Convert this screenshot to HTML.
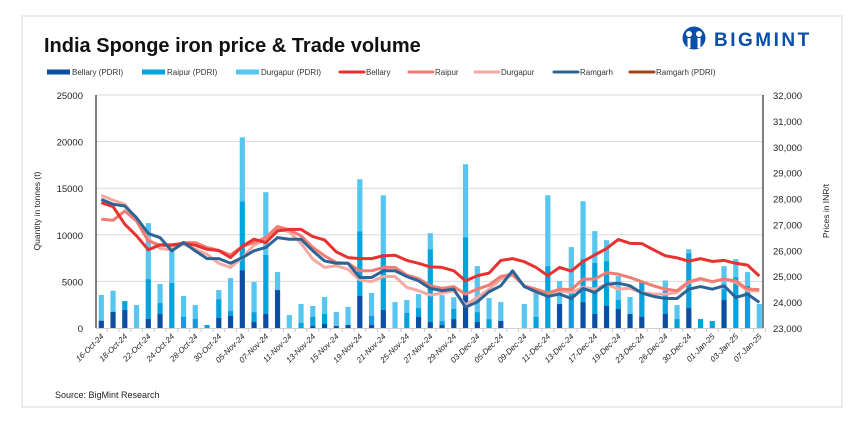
<!DOCTYPE html>
<html><head><meta charset="utf-8"><style>
body{margin:0;background:#fff;font-family:"Liberation Sans",sans-serif;}
svg text{font-family:"Liberation Sans",sans-serif;}
</style></head><body>
<svg id="chart" width="863" height="427" viewBox="0 0 863 427" xmlns="http://www.w3.org/2000/svg">
<rect x="22" y="16" width="820" height="391" fill="#fff" stroke="#d9d9d9" stroke-width="1"/>
<text x="44" y="52" font-size="20" font-weight="bold" fill="#111">India Sponge iron price &amp; Trade volume</text>
<g>
<circle cx="694" cy="38" r="11.5" fill="#0a4fa8"/>
<circle cx="689" cy="34" r="3" fill="#fff"/><circle cx="699" cy="34" r="3" fill="#fff"/>
<rect x="687.5" y="38" width="3" height="10" fill="#fff"/><rect x="697.5" y="38" width="3" height="10" fill="#fff"/>
<text x="714" y="46" font-size="19" font-weight="bold" fill="#0a4fa8" letter-spacing="2.5">BIGMINT</text>
</g>
<g id="legend" font-size="8" fill="#333"></g>
<g id="grid"></g>
<g id="bars"></g>
<g id="lines"></g>
<g id="axes"></g>
<text transform="translate(40,211) rotate(-90)" text-anchor="middle" font-size="8.5" fill="#222">Quantity in tonnes (t)</text>
<text transform="translate(829,211) rotate(-90)" text-anchor="middle" font-size="8.5" fill="#222">Prices in INR/t</text>
<text x="55" y="398" font-size="9" fill="#222">Source: BigMint Research</text>
</svg>
<script>
const dates=["16-Oct-24","17-Oct-24","18-Oct-24","21-Oct-24","22-Oct-24","23-Oct-24","24-Oct-24","25-Oct-24","28-Oct-24","29-Oct-24","30-Oct-24","04-Nov-24","05-Nov-24","06-Nov-24","07-Nov-24","08-Nov-24","11-Nov-24","12-Nov-24","13-Nov-24","14-Nov-24","15-Nov-24","18-Nov-24","19-Nov-24","20-Nov-24","21-Nov-24","22-Nov-24","25-Nov-24","26-Nov-24","27-Nov-24","28-Nov-24","29-Nov-24","02-Dec-24","03-Dec-24","04-Dec-24","05-Dec-24","06-Dec-24","09-Dec-24","10-Dec-24","11-Dec-24","12-Dec-24","13-Dec-24","16-Dec-24","17-Dec-24","18-Dec-24","19-Dec-24","20-Dec-24","23-Dec-24","24-Dec-24","26-Dec-24","27-Dec-24","30-Dec-24","31-Dec-24","01-Jan-25","02-Jan-25","03-Jan-25","06-Jan-25","07-Jan-25"];
const bellaryPdri=[790,1750,1960,0,1000,1500,0,0,0,0,1070,1290,6210,640,1500,4070,0,0,210,430,210,320,3430,320,1960,0,0,1180,640,320,960,3530,640,0,750,0,0,0,0,2570,0,2780,1500,2360,2040,1500,1180,0,1500,0,2140,0,0,3000,0,0,0];
const raipurPdri=[0,0,930,0,4250,1180,4860,1180,1000,320,2030,530,7390,1070,6350,0,0,540,970,1070,0,0,6960,970,6000,0,1610,960,7820,430,1080,6220,1070,960,0,0,0,1180,6640,0,4000,4610,5500,4820,960,0,3750,0,2500,960,5890,960,750,1180,5460,4530,0];
const durgapurPdri=[2750,2250,0,2460,6000,2030,3340,2250,1460,0,970,3540,6860,3220,6720,1930,1390,2030,1180,1820,1500,1930,5570,2460,6280,2780,1390,1500,1710,2780,1260,7820,4930,2250,2030,0,2570,2570,7600,2460,4680,6210,3390,2250,2570,1820,0,0,1100,1500,430,0,0,2460,1930,1470,2570];
const bellaryPrice=[27840,27690,27010,26560,26020,26210,26210,26270,26200,26040,25990,25720,26150,26430,26300,26750,26810,26810,26530,26400,25940,25720,25680,25680,25790,25810,25610,25500,25360,25340,25210,24820,25020,25120,25610,25680,25560,25340,25020,25340,25200,25570,25820,26070,26420,26270,26260,26020,25790,25710,25580,25680,25570,25610,25500,25430,25010];
const raipurPrice=[27200,27160,27520,27130,26360,26200,26170,26300,26300,26110,26000,25820,26150,26300,26490,26920,26790,26560,26110,25790,25530,25500,25210,25210,25340,25340,25040,24910,24630,24530,24600,24310,24500,24660,24990,25080,24630,24500,24350,24500,24480,24890,24890,25140,25080,24950,24790,24630,24500,24440,24790,24910,24790,24890,24820,24500,24480];
const durgapurPrice=[28120,27940,27780,27200,26450,26070,26020,26240,26040,25850,25500,25340,25720,26200,26430,26840,26710,26270,25660,25340,25400,25270,24860,24790,24990,24990,24570,24440,24270,24350,24440,23890,24180,24500,24890,25040,24630,24370,24310,24440,24370,24570,24500,24690,24500,24530,24370,24310,24310,24370,24760,24890,24790,24890,24760,24440,24440];
const ramgarhPrice=[27970,27780,27710,27260,26650,26490,25980,26300,25980,25680,25680,25500,25720,25980,26110,26490,26430,26430,25980,25590,25500,25500,24950,24950,25210,25210,24990,24820,24530,24440,24500,23800,24010,24400,24630,25210,24600,24400,24220,24310,24140,24530,24370,24690,24730,24630,24350,24220,24140,24140,24500,24600,24500,24630,24180,24310,23990];
const leftTicks=[0,5000,10000,15000,20000,25000];
const rightTicks=[23000,24000,25000,26000,27000,28000,29000,30000,31000,32000];

const NS="http://www.w3.org/2000/svg";
const X0=96,X1=763,Y0=328,Y1=95;
const xPos=i=>101.3+i*11.75;
const yL=v=>Y0-(v/25000)*(Y0-Y1);
const yR=v=>Y0-((v-23000)/9000)*(Y0-Y1);
function mk(tag,attrs,parent,txt){const e=document.createElementNS(NS,tag);for(const k in attrs)e.setAttribute(k,attrs[k]);if(txt!==undefined)e.textContent=txt;parent.appendChild(e);return e;}
const grid=document.getElementById('grid'),axes=document.getElementById('axes'),bars=document.getElementById('bars'),lines=document.getElementById('lines'),legend=document.getElementById('legend');
leftTicks.forEach(v=>{
 if(v>0){const g=mk('line',{x1:X0,x2:X1,y1:yL(v),y2:yL(v),stroke:'#d9d9d9','stroke-width':1},grid);
 
 }
 const t=mk('text',{x:83,y:yL(v)+4,'text-anchor':'end','font-size':9.5,fill:'#222'},axes,String(v));
 
 
});
rightTicks.forEach(v=>{
 const t=mk('text',{x:773,y:yR(v)+4,'font-size':9.5,fill:'#222'},axes,v.toLocaleString('en-US'));
 
 
});
mk('line',{x1:X0,x2:X1,y1:Y0+0.5,y2:Y0+0.5,stroke:'#d0d0d0','stroke-width':1},axes);
mk('line',{x1:X0,x2:X0,y1:Y1,y2:Y0,stroke:'#000','stroke-width':1},axes);
mk('line',{x1:X1,x2:X1,y1:Y1,y2:Y0,stroke:'#000','stroke-width':1},axes);
dates.forEach((d,i)=>{
 const x=xPos(i);
 mk('line',{x1:x+5.9,x2:x+5.9,y1:Y0,y2:Y0+4,stroke:'#c8c8c8','stroke-width':1},axes);
 if(i%2===0){
  const t=mk('text',{transform:`translate(${x+3},${Y0+9}) rotate(-45)`,'text-anchor':'end','font-size':8,'font-style':'italic',fill:'#222'},axes,d);
  
  
 }
 let base=0;
 [[bellaryPdri,'#0b4ea2','bar-bellary-pdri'],[raipurPdri,'#05a3de','bar-raipur-pdri'],[durgapurPdri,'#56c5f0','bar-durgapur-pdri']].forEach(([arr,c,n])=>{
  const v=arr[i]; if(v>0){
   const r=mk('rect',{x:x-2.6,y:yL(base+v),width:5.2,height:yL(base)-yL(base+v),fill:c},bars);
   
   
  }
  base+=v;
 });
});
[[durgapurPrice,'#f4aaa2','line-durgapur'],[raipurPrice,'#f07c73','line-raipur'],[bellaryPrice,'#e8322f','line-bellary'],[ramgarhPrice,'#2d6496','line-ramgarh']].forEach(([arr,c,n])=>{
 const p=mk('polyline',{points:arr.map((v,i)=>xPos(i)+','+yR(v)).join(' '),fill:'none',stroke:c,'stroke-width':3,'stroke-linejoin':'round'},lines);
 
 
});
const leg=[['bar','#0b4ea2','Bellary (PDRI)',47],['bar','#05a3de','Raipur (PDRI)',142],['bar','#56c5f0','Durgapur (PDRI)',236],['line','#e8322f','Bellary',340],['line','#f07c73','Raipur',409],['line','#f4aaa2','Durgapur',475],['line','#2d6496','Ramgarh',554],['line','#a0441a','Ramgarh (PDRI)',630]];
leg.forEach(([k,c,l,x])=>{
 const g=mk('g',{},legend);
 
 
 if(k==='bar')mk('rect',{x:x,y:69.5,width:23,height:5,fill:c},g);
 else mk('line',{x1:x,x2:x+24,y1:72,y2:72,stroke:c,'stroke-width':3,'stroke-linecap':'round'},g);
 mk('text',{x:x+(k==='bar'?25:26),y:75,'font-size':8,fill:'#333'},g,l);
});
</script>
</body></html>
